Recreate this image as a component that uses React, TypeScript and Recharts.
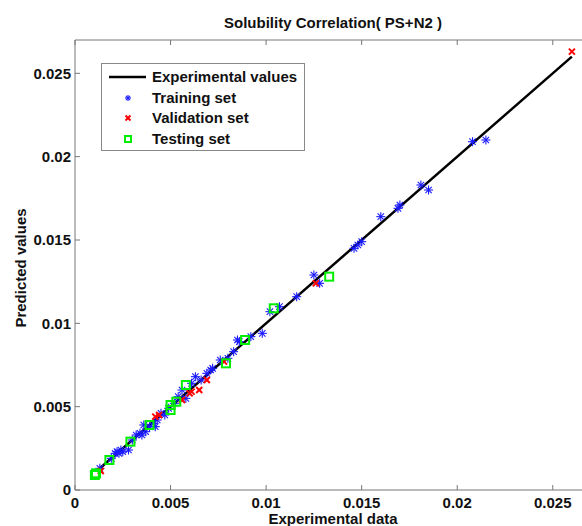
import React from 'react';
import { ScatterChart, Scatter, XAxis, YAxis } from 'recharts';

const FONT = '"Liberation Sans", Arial, Helvetica, sans-serif';
const AXIS_COLOR = '#777';

const TICKS = [0, 0.005, 0.01, 0.015, 0.02, 0.025];

// experimental (ideal) line
const lineX = [0.0012, 0.026];
const lineY = [0.0012, 0.026];

// training set (blue stars)
const trainX = [
  0.0013, 0.0019, 0.0021, 0.0022, 0.0023, 0.0024, 0.0025, 0.0028, 0.003, 0.0032,
  0.0034, 0.0035, 0.0036, 0.0037, 0.0039, 0.0041, 0.0042, 0.0043, 0.0045, 0.0047,
  0.0049, 0.0052, 0.0054, 0.0056, 0.0058, 0.0061, 0.0063, 0.0066, 0.0069, 0.0071,
  0.0072, 0.0076, 0.008, 0.0083, 0.0085, 0.0086, 0.0092, 0.0098, 0.0102, 0.0107,
  0.0116, 0.0125, 0.0128, 0.0146, 0.0148, 0.015, 0.016, 0.0169, 0.017, 0.0181,
  0.0185, 0.0208, 0.0215,
];
const trainY = [
  0.0013, 0.0019, 0.0022, 0.0023, 0.0022, 0.0024, 0.0023, 0.0024, 0.003, 0.0033,
  0.0034, 0.0033, 0.0039, 0.0035, 0.0038, 0.004, 0.0038, 0.0042, 0.0046, 0.0045,
  0.0049, 0.0052, 0.0056, 0.006, 0.0055, 0.0064, 0.0068, 0.0066, 0.007, 0.0072,
  0.0073, 0.0078, 0.0079, 0.0083, 0.009, 0.0089, 0.0092, 0.0094, 0.0107, 0.011,
  0.0116, 0.0129, 0.0124, 0.0145, 0.0147, 0.0149, 0.0164, 0.0169, 0.0171, 0.0183,
  0.018, 0.0209, 0.021,
];

// validation set (red crosses)
const valX = [0.00135, 0.0042, 0.0044, 0.0056, 0.006, 0.0061, 0.0065, 0.0069, 0.0078, 0.0126, 0.026];
const valY = [0.00114, 0.0044, 0.0045, 0.0054, 0.0058, 0.0059, 0.006, 0.0066, 0.0077, 0.0124, 0.0263];

// testing set (green squares)
const testX = [0.00104, 0.0011, 0.0018, 0.0029, 0.0039, 0.005, 0.005, 0.0053, 0.0058, 0.0079, 0.0089, 0.0104, 0.0133];
const testY = [0.0009, 0.001, 0.0018, 0.0029, 0.0039, 0.0048, 0.0051, 0.0053, 0.0063, 0.0076, 0.009, 0.0109, 0.0128];

const zip = (xs: number[], ys: number[]) => xs.map((x, i) => ({ x, y: ys[i] }));

const lineData = zip(lineX, lineY);
const trainData = zip(trainX, trainY);
const valData = zip(valX, valY);
const testData = zip(testX, testY);

const Star = ({ cx, cy, r = 4.5 }: any) => {
  const d = r * 0.707;
  return (
    <g stroke="#1a1aff" strokeWidth={1.1}>
      <line x1={cx - r} y1={cy} x2={cx + r} y2={cy} />
      <line x1={cx} y1={cy - r} x2={cx} y2={cy + r} />
      <line x1={cx - d} y1={cy - d} x2={cx + d} y2={cy + d} />
      <line x1={cx - d} y1={cy + d} x2={cx + d} y2={cy - d} />
    </g>
  );
};

const Cross = ({ cx, cy, r = 3 }: any) => (
  <g stroke="#ff0000" strokeWidth={2}>
    <line x1={cx - r} y1={cy - r} x2={cx + r} y2={cy + r} />
    <line x1={cx - r} y1={cy + r} x2={cx + r} y2={cy - r} />
  </g>
);

const Square = ({ cx, cy, r = 4 }: any) => (
  <rect x={cx - r} y={cy - r} width={2 * r} height={2 * r} fill="none" stroke="#00ee00" strokeWidth={2} />
);

const BottomTick = ({ x, y, payload }: any) => (
  <g>
    <line x1={x} x2={x} y1={y} y2={y - 5} stroke={AXIS_COLOR} />
    <text x={x} y={y + 18} textAnchor="middle" fontFamily={FONT} fontWeight="bold" fontSize={15} fill="#111">
      {payload.value}
    </text>
  </g>
);

const TopTick = ({ x, y }: any) => (
  <line x1={x} x2={x} y1={y} y2={y + 5} stroke={AXIS_COLOR} />
);

const LeftTick = ({ x, y, payload }: any) => (
  <g>
    <line x1={x} x2={x + 5} y1={y} y2={y} stroke={AXIS_COLOR} />
    <text x={x - 4} y={y} dy="0.36em" textAnchor="end" fontFamily={FONT} fontWeight="bold" fontSize={15} fill="#111">
      {payload.value}
    </text>
  </g>
);

const textStyle: React.CSSProperties = {
  position: 'absolute',
  fontFamily: FONT,
  fontWeight: 'bold',
  fontSize: 15,
  color: '#111',
  whiteSpace: 'nowrap',
  lineHeight: '15px',
};

const LegendBox = () => (
  <svg width={205} height={89} style={{ position: 'absolute', left: 101, top: 63 }}>
    <rect x={0.5} y={0.5} width={203} height={87} fill="#fff" stroke="#888" />
    <line x1={8} x2={45} y1={14} y2={14} stroke="#000" strokeWidth={2.5} />
    <Star cx={27} cy={35} r={3} />
    <Cross cx={27} cy={55} r={2.5} />
    <Square cx={27} cy={76} r={3} />
    {['Experimental values', 'Training set', 'Validation set', 'Testing set'].map((t, i) => (
      <text key={t} x={51} y={[14, 35, 55, 76][i]} dy="0.36em" fontFamily={FONT} fontWeight="bold" fontSize={15} fill="#111">
        {t}
      </text>
    ))}
  </svg>
);

export default function App() {
  return (
    <div style={{ position: 'absolute', left: 0, top: 0, width: 582, height: 526, overflow: 'hidden', background: '#fff' }}>
      <ScatterChart width={600} height={526} margin={{ top: 20, right: 9, bottom: 0, left: 0 }}>
        <XAxis
          type="number"
          dataKey="x"
          domain={[0, 0.027]}
          ticks={TICKS}
          allowDataOverflow
          height={36}
          stroke={AXIS_COLOR}
          tickSize={0}
          tickMargin={0}
          tick={<BottomTick />}
        />
        <XAxis
          xAxisId="top"
          orientation="top"
          type="number"
          dataKey="x"
          domain={[0, 0.027]}
          ticks={TICKS}
          allowDataOverflow
          height={20}
          stroke={AXIS_COLOR}
          tickSize={0}
          tickMargin={0}
          tick={<TopTick />}
        />
        <YAxis
          type="number"
          dataKey="y"
          domain={[0, 0.027]}
          ticks={TICKS}
          allowDataOverflow
          width={75}
          stroke={AXIS_COLOR}
          tickSize={0}
          tickMargin={0}
          tick={<LeftTick />}
        />
        <Scatter
          name="Experimental values"
          data={lineData}
          line={{ stroke: '#000', strokeWidth: 2.5 }}
          lineType="joint"
          shape={() => <g />}
          isAnimationActive={false}
        />
        <Scatter name="Training set" data={trainData} shape={<Star />} isAnimationActive={false} />
        <Scatter name="Validation set" data={valData} shape={<Cross />} isAnimationActive={false} />
        <Scatter name="Testing set" data={testData} shape={<Square />} isAnimationActive={false} />
      </ScatterChart>
      <div style={{ ...textStyle, left: 333, top: 15, transform: 'translateX(-50%)' }}>Solubility Correlation( PS+N2 )</div>
      <div style={{ ...textStyle, left: 333, top: 511, transform: 'translateX(-50%)' }}>Experimental data</div>
      <div style={{ ...textStyle, left: 20, top: 268, transform: 'translate(-50%, -50%) rotate(-90deg)' }}>Predicted values</div>
      <LegendBox />
    </div>
  );
}
